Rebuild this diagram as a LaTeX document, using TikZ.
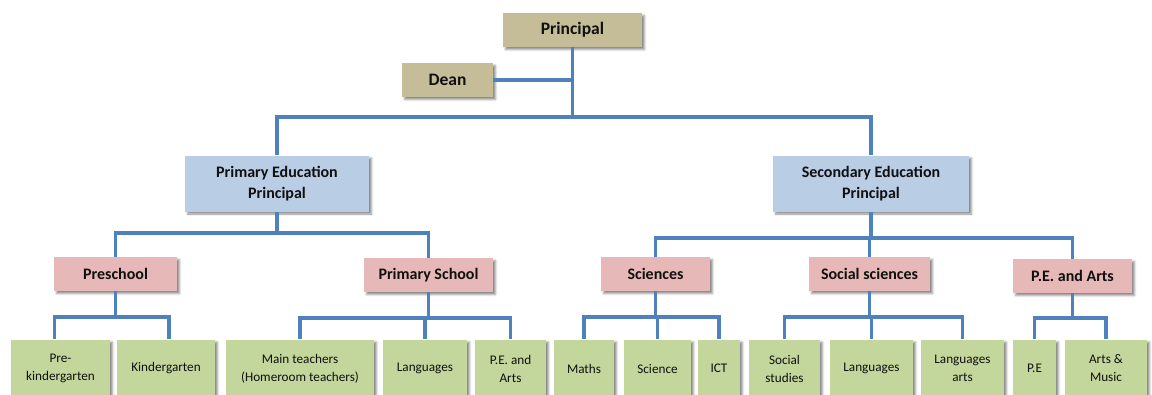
\documentclass[tikz,border=0pt]{standalone}
\usepackage{fontspec}
\setmainfont{Carlito}
\usetikzlibrary{shadows.blur}

\definecolor{linkblue}{HTML}{4F81BD}
\definecolor{headtan}{HTML}{C4BD97}
\definecolor{edublue}{HTML}{B9CDE5}
\definecolor{deptpink}{HTML}{E6B9B8}
\definecolor{unitgreen}{HTML}{C3D69B}
\definecolor{ink}{HTML}{101010}

\tikzset{
  box/.style={rectangle, draw=none, inner sep=0pt, align=center, text=ink,
    blur shadow={shadow xshift=2.5pt, shadow yshift=-2.5pt,
                 shadow blur radius=2pt, shadow opacity=45}},
  headbox/.style={box, fill=headtan, minimum height=34pt,
    font=\fontsize{17.5}{21}\selectfont\bfseries},
  edubox/.style={box, fill=edublue, minimum height=56pt,
    font=\fontsize{16}{20.5}\selectfont\bfseries},
  deptbox/.style={box, fill=deptpink, minimum height=34pt,
    font=\fontsize{16}{20}\selectfont\bfseries},
  unitbox/.style={box, fill=unitgreen, minimum height=58pt,
    font=\fontsize{13.2}{18}\selectfont},
  conn/.style={draw=linkblue, line width=3.3pt},
}

\begin{document}
\begin{tikzpicture}[x=1pt, y=-1pt]
\useasboundingbox (0,0) rectangle (1152,394);

% top level
\node[headbox, minimum width=139pt] (principal) at (572.5,30) {Principal};
\node[headbox, minimum width=91pt]  (dean)      at (447.5,80) {Dean};

% education principals
\node[edubox, minimum width=184pt] (pep) at (277,183.5) {Primary Education\\Principal};
\node[edubox, minimum width=196pt] (sep) at (871,183.5) {Secondary Education\\Principal};

% departments
\node[deptbox, minimum width=123pt] (pre)  at (115.5,274)  {Preschool};
\node[deptbox, minimum width=129pt] (prim) at (428.5,275)  {Primary School};
\node[deptbox, minimum width=109pt] (sci)  at (655.5,274)  {Sciences};
\node[deptbox, minimum width=121pt] (soc)  at (869.5,274)  {Social sciences};
\node[deptbox, minimum width=119pt] (pea)  at (1072.5,276) {P.E. and Arts};

% units
\node[unitbox, minimum width=99pt]  (prek)     at (60.5,368.5)   {Pre-\\kindergarten};
\node[unitbox, minimum width=98pt]  (kinder)   at (166,368.5)    {Kindergarten};
\node[unitbox, minimum width=148pt] (mainteach) at (300,368.5)   {Main teachers\\(Homeroom teachers)};
\node[unitbox, minimum width=84pt]  (langA)    at (425,368.5)    {Languages};
\node[unitbox, minimum width=71pt]  (peartsA)  at (510.5,368.5)  {P.E. and\\Arts};
\node[unitbox, minimum width=60pt]  (maths)    at (584,368.5)    {Maths};
\node[unitbox, minimum width=67pt]  (science)  at (657.5,368.5)  {Science};
\node[unitbox, minimum width=42pt]  (ict)      at (719,368.5)    {ICT};
\node[unitbox, minimum width=71pt]  (socst)    at (784.5,368.5)  {Social\\studies};
\node[unitbox, minimum width=83pt]  (langB)    at (871.5,368.5)  {Languages};
\node[unitbox, minimum width=83pt]  (langarts) at (962.5,368.5)  {Languages\\arts};
\node[unitbox, minimum width=43pt]  (pe)       at (1034.5,368.5) {P.E};
\node[unitbox, minimum width=82pt]  (artsmus)  at (1106,368.5)   {Arts \&\\Music};

% connectors: top
\draw[conn] (principal.south) -- (principal.south |- 0,117);
\draw[conn] (dean.east) -- (dean.east -| principal.south);
\draw[conn] (pep.north) |- (principal.south |- 0,117);
\draw[conn] (sep.north) |- (principal.south |- 0,117);

% connectors: education principals to departments
\draw[conn] (pep.south) -- (pep.south |- 0,233) -| (pre.north);
\draw[conn] (pep.south |- 0,233) -| (prim.north);
\draw[conn] (sep.south) -- (sep.south |- 0,238) -| (sci.north);
\draw[conn] (sep.south |- 0,238) -| (soc.north);
\draw[conn] (sep.south |- 0,238) -| (pea.north);

% connectors: departments to units
\draw[conn] (pre.south) -- (pre.south |- 0,317) -| ([xshift=-6pt]prek.north);
\draw[conn] (pre.south |- 0,317) -| ([xshift=3pt]kinder.north);

\draw[conn] (prim.south) -- (prim.south |- 0,318) -| (mainteach.north);
\draw[conn] (prim.south |- 0,318) -| (langA.north);
\draw[conn] (prim.south |- 0,318) -| (peartsA.north);

\draw[conn] (sci.south) -- (sci.south |- 0,317) -| (maths.north);
\draw[conn] (sci.south |- 0,317) -| (science.north);
\draw[conn] (sci.south |- 0,317) -| (ict.north);

\draw[conn] (soc.south) -- (soc.south |- 0,317) -| (socst.north);
\draw[conn] (soc.south |- 0,317) -| (langB.north);
\draw[conn] (soc.south |- 0,317) -| (langarts.north);

\draw[conn] (pea.south) -- (pea.south |- 0,318) -| (pe.north);
\draw[conn] (pea.south |- 0,318) -| (artsmus.north);
\end{tikzpicture}
\end{document}
